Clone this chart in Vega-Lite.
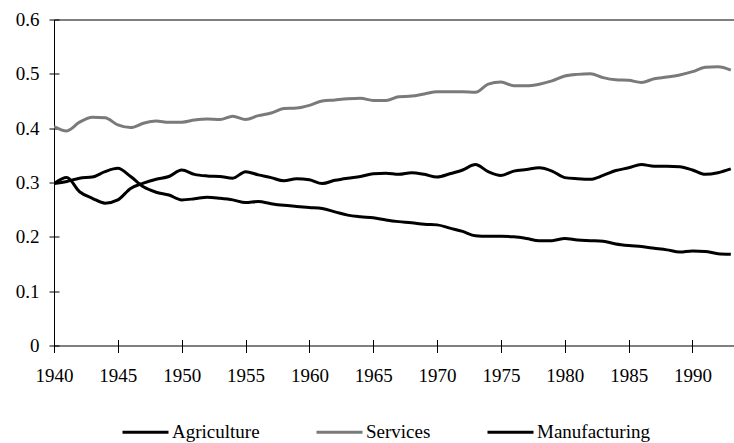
{
  "$schema": "https://vega.github.io/schema/vega-lite/v6.json",
  "autosize": {"type": "none"},
  "padding": {"left": 54, "top": 19.5, "right": 0, "bottom": 97.5},
  "width": 680,
  "height": 326,
  "background": "white",
  "config": {
    "view": {"stroke": "black", "strokeWidth": 1},
    "font": "Liberation Serif, Times New Roman, DejaVu Serif, serif"
  },
  "data": {
    "values": [
      {"year": 1940, "Agriculture": 0.298, "Services": 0.403, "Manufacturing": 0.298},
      {"year": 1941, "Agriculture": 0.302, "Services": 0.395, "Manufacturing": 0.309},
      {"year": 1942, "Agriculture": 0.308, "Services": 0.411, "Manufacturing": 0.283},
      {"year": 1943, "Agriculture": 0.310, "Services": 0.420, "Manufacturing": 0.271},
      {"year": 1944, "Agriculture": 0.320, "Services": 0.419, "Manufacturing": 0.262},
      {"year": 1945, "Agriculture": 0.326, "Services": 0.406, "Manufacturing": 0.268},
      {"year": 1946, "Agriculture": 0.311, "Services": 0.401, "Manufacturing": 0.289},
      {"year": 1947, "Agriculture": 0.292, "Services": 0.409, "Manufacturing": 0.299},
      {"year": 1948, "Agriculture": 0.282, "Services": 0.413, "Manufacturing": 0.306},
      {"year": 1949, "Agriculture": 0.277, "Services": 0.411, "Manufacturing": 0.311},
      {"year": 1950, "Agriculture": 0.268, "Services": 0.411, "Manufacturing": 0.323},
      {"year": 1951, "Agriculture": 0.270, "Services": 0.415, "Manufacturing": 0.315},
      {"year": 1952, "Agriculture": 0.273, "Services": 0.417, "Manufacturing": 0.312},
      {"year": 1953, "Agriculture": 0.271, "Services": 0.416, "Manufacturing": 0.311},
      {"year": 1954, "Agriculture": 0.268, "Services": 0.422, "Manufacturing": 0.308},
      {"year": 1955, "Agriculture": 0.263, "Services": 0.416, "Manufacturing": 0.320},
      {"year": 1956, "Agriculture": 0.265, "Services": 0.423, "Manufacturing": 0.314},
      {"year": 1957, "Agriculture": 0.261, "Services": 0.428, "Manufacturing": 0.309},
      {"year": 1958, "Agriculture": 0.258, "Services": 0.436, "Manufacturing": 0.303},
      {"year": 1959, "Agriculture": 0.256, "Services": 0.437, "Manufacturing": 0.307},
      {"year": 1960, "Agriculture": 0.254, "Services": 0.442, "Manufacturing": 0.305},
      {"year": 1961, "Agriculture": 0.252, "Services": 0.450, "Manufacturing": 0.298},
      {"year": 1962, "Agriculture": 0.246, "Services": 0.452, "Manufacturing": 0.304},
      {"year": 1963, "Agriculture": 0.240, "Services": 0.454, "Manufacturing": 0.308},
      {"year": 1964, "Agriculture": 0.237, "Services": 0.455, "Manufacturing": 0.311},
      {"year": 1965, "Agriculture": 0.235, "Services": 0.451, "Manufacturing": 0.316},
      {"year": 1966, "Agriculture": 0.231, "Services": 0.451, "Manufacturing": 0.317},
      {"year": 1967, "Agriculture": 0.228, "Services": 0.458, "Manufacturing": 0.315},
      {"year": 1968, "Agriculture": 0.226, "Services": 0.459, "Manufacturing": 0.318},
      {"year": 1969, "Agriculture": 0.223, "Services": 0.463, "Manufacturing": 0.315},
      {"year": 1970, "Agriculture": 0.222, "Services": 0.467, "Manufacturing": 0.310},
      {"year": 1971, "Agriculture": 0.216, "Services": 0.467, "Manufacturing": 0.316},
      {"year": 1972, "Agriculture": 0.210, "Services": 0.467, "Manufacturing": 0.323},
      {"year": 1973, "Agriculture": 0.202, "Services": 0.466, "Manufacturing": 0.333},
      {"year": 1974, "Agriculture": 0.201, "Services": 0.481, "Manufacturing": 0.320},
      {"year": 1975, "Agriculture": 0.201, "Services": 0.485, "Manufacturing": 0.313},
      {"year": 1976, "Agriculture": 0.200, "Services": 0.478, "Manufacturing": 0.321},
      {"year": 1977, "Agriculture": 0.197, "Services": 0.478, "Manufacturing": 0.324},
      {"year": 1978, "Agriculture": 0.193, "Services": 0.481, "Manufacturing": 0.327},
      {"year": 1979, "Agriculture": 0.193, "Services": 0.487, "Manufacturing": 0.321},
      {"year": 1980, "Agriculture": 0.197, "Services": 0.496, "Manufacturing": 0.309},
      {"year": 1981, "Agriculture": 0.194, "Services": 0.499, "Manufacturing": 0.307},
      {"year": 1982, "Agriculture": 0.193, "Services": 0.500, "Manufacturing": 0.306},
      {"year": 1983, "Agriculture": 0.192, "Services": 0.493, "Manufacturing": 0.313},
      {"year": 1984, "Agriculture": 0.187, "Services": 0.489, "Manufacturing": 0.322},
      {"year": 1985, "Agriculture": 0.184, "Services": 0.488, "Manufacturing": 0.327},
      {"year": 1986, "Agriculture": 0.182, "Services": 0.484, "Manufacturing": 0.333},
      {"year": 1987, "Agriculture": 0.179, "Services": 0.491, "Manufacturing": 0.330},
      {"year": 1988, "Agriculture": 0.176, "Services": 0.494, "Manufacturing": 0.330},
      {"year": 1989, "Agriculture": 0.172, "Services": 0.498, "Manufacturing": 0.329},
      {"year": 1990, "Agriculture": 0.174, "Services": 0.504, "Manufacturing": 0.323},
      {"year": 1991, "Agriculture": 0.173, "Services": 0.512, "Manufacturing": 0.315},
      {"year": 1992, "Agriculture": 0.169, "Services": 0.513, "Manufacturing": 0.318},
      {"year": 1993, "Agriculture": 0.168, "Services": 0.507, "Manufacturing": 0.325}
    ]
  },
  "transform": [
    {"fold": ["Agriculture", "Services", "Manufacturing"], "as": ["sector", "share"]}
  ],
  "mark": {"type": "line", "strokeWidth": 3, "interpolate": "monotone", "clip": true},
  "encoding": {
    "x": {
      "field": "year",
      "type": "quantitative",
      "scale": {"domain": [1940, 1993.25], "nice": false, "zero": false},
      "axis": {
        "title": null,
        "values": [1940, 1945, 1950, 1955, 1960, 1965, 1970, 1975, 1980, 1985, 1990],
        "format": "d",
        "domain": false,
        "grid": false,
        "offset": -6,
        "tickSize": 13,
        "tickColor": "black",
        "labelFont": "Liberation Serif, Times New Roman, DejaVu Serif, serif",
        "labelFontSize": 19,
        "labelColor": "black",
        "labelPadding": 14,
        "labelFlush": false
      }
    },
    "y": {
      "field": "share",
      "type": "quantitative",
      "scale": {"domain": [0, 0.6], "nice": false},
      "axis": {
        "title": null,
        "values": [0, 0.1, 0.2, 0.3, 0.4, 0.5, 0.6],
        "format": "~f",
        "domain": false,
        "grid": false,
        "offset": -5,
        "tickSize": 10,
        "tickColor": "black",
        "labelFont": "Liberation Serif, Times New Roman, DejaVu Serif, serif",
        "labelFontSize": 19,
        "labelColor": "black",
        "labelPadding": 10
      }
    },
    "color": {
      "field": "sector",
      "type": "nominal",
      "scale": {
        "domain": ["Agriculture", "Services", "Manufacturing"],
        "range": ["#000000", "#7a7a7a", "#000000"]
      },
      "legend": {
        "title": null,
        "orient": "none",
        "direction": "horizontal",
        "legendX": 67,
        "legendY": 388,
        "symbolType": "stroke",
        "symbolSize": 2116,
        "symbolStrokeWidth": 3,
        "labelFont": "Liberation Serif, Times New Roman, DejaVu Serif, serif",
        "labelFontSize": 19,
        "labelColor": "black",
        "labelOffset": 2,
        "columnPadding": 50,
        "padding": 0
      }
    }
  }
}
